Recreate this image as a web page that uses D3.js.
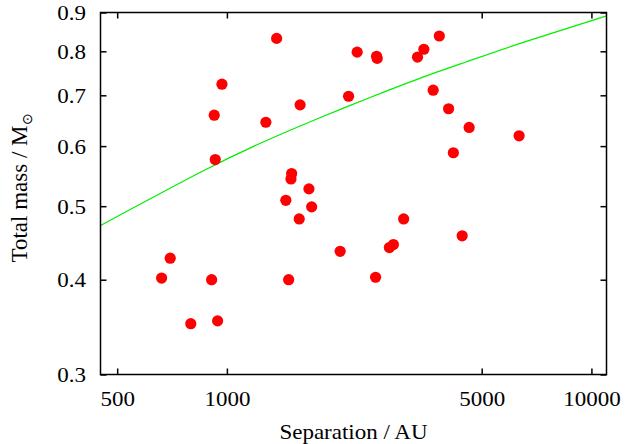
<!DOCTYPE html>
<html>
<head>
<meta charset="utf-8">
<script src="https://cdn.jsdelivr.net/npm/d3@7"></script>
<style>
  html, body { margin: 0; padding: 0; background: #fff; }
  svg { display: block; }
  text { font-family: "Liberation Serif", "Times New Roman", serif; fill: #000; }
</style>
</head>
<body>
<svg id="chart" width="626" height="444"></svg>
<script>
// separação (AU) e massa total (M_sol) de cada par
const separation = [662, 699, 796, 943, 908, 929, 923, 969, 1279, 1369, 1588, 1505,
  1499, 1679, 1451, 1708, 1579, 1477, 2045, 2157, 2277, 2574, 2584, 2558,
  2791, 2862, 3054, 3334, 3470, 3826, 3680, 4057, 4181, 4420, 4619, 6333];
const totalMass = [0.402, 0.427, 0.350, 0.353, 0.400, 0.576, 0.659, 0.724, 0.645, 0.832, 0.680, 0.552,
  0.543, 0.527, 0.509, 0.499, 0.481, 0.400, 0.436, 0.698, 0.798, 0.788, 0.783, 0.403,
  0.441, 0.445, 0.481, 0.786, 0.805, 0.838, 0.711, 0.672, 0.588, 0.457, 0.635, 0.619];

// curva verde
const curveSep = [450, 870, 1312, 1799, 2500, 3383, 4543, 6500, 11000];
const curveMass = [0.4715, 0.558, 0.613, 0.654, 0.697, 0.737, 0.775, 0.822, 0.891];

const xTicks = [500, 1000, 5000, 10000];
const yTicks = [0.3, 0.4, 0.5, 0.6, 0.7, 0.8, 0.9];

(function () {
  const mLeft = 100.5, mRight = 606.5, mTop = 12.5, mBottom = 374.5;
  const fontSize = 20, stretch = 1.15;

  const svg = d3.select('#chart');

  const x = d3.scaleLog().domain([450, 11000]).range([mLeft, mRight]);
  const y = d3.scaleLog().domain([0.3, 0.9]).range([mBottom, mTop]);

  // curva
  const linha = d3.line()
    .x(d => x(d[0]))
    .y(d => y(d[1]))
    .curve(d3.curveNatural);

  svg.append('path')
    .datum(curveSep.map((s, i) => [s, curveMass[i]]))
    .attr('d', linha)
    .attr('fill', 'none')
    .attr('stroke', '#00ee00')
    .attr('stroke-width', 1.2);

  // pontos
  svg.append('g')
    .selectAll('circle')
    .data(separation.map((s, i) => [s, totalMass[i]]))
    .enter()
    .append('circle')
    .attr('cx', d => x(d[0]))
    .attr('cy', d => y(d[1]))
    .attr('r', 5.6)
    .attr('fill', '#ff0000');

  // eixos (ticks para dentro)
  const eixo = (gen, tx, ty) => {
    const g = svg.append('g').attr('transform', `translate(${tx},${ty})`).call(gen);
    g.select('.domain').remove();
    g.selectAll('line').attr('stroke', '#000').attr('stroke-width', 1.5);
    return g;
  };

  const gx = eixo(d3.axisBottom(x).tickValues(xTicks).tickSize(-6).tickFormat(d3.format('d')), 0, mBottom);
  eixo(d3.axisTop(x).tickValues(xTicks).tickSize(-6).tickFormat(''), 0, mTop);
  const gy = eixo(d3.axisLeft(y).tickValues(yTicks).tickSize(-6).tickFormat(d3.format('.1f')), mLeft, 0);
  eixo(d3.axisRight(y).tickValues(yTicks).tickSize(-6).tickFormat(''), mRight, 0);

  gx.selectAll('text')
    .attr('y', null).attr('dy', null)
    .attr('font-size', fontSize)
    .attr('text-anchor', 'middle')
    .attr('transform', `translate(0,${406 - mBottom}) scale(${stretch},1)`);

  gy.selectAll('text')
    .attr('x', null).attr('dy', null)
    .attr('font-size', fontSize)
    .attr('text-anchor', 'end')
    .attr('transform', `translate(${86 - mLeft},7) scale(${stretch},1)`);

  svg.selectAll('g').attr('font-family', null).attr('font-size', null);

  // moldura
  svg.append('rect')
    .attr('x', mLeft).attr('y', mTop)
    .attr('width', mRight - mLeft).attr('height', mBottom - mTop)
    .attr('fill', 'none')
    .attr('stroke', '#000')
    .attr('stroke-width', 1.5);

  // títulos
  svg.append('text')
    .attr('transform', `translate(${(mLeft + mRight) / 2},438.5) scale(${stretch},1)`)
    .attr('text-anchor', 'middle')
    .attr('font-size', fontSize)
    .text('Separation / AU');

  const tituloY = svg.append('text')
    .attr('transform', 'translate(27,188) scale(1.15,1.15) rotate(-90)')
    .attr('text-anchor', 'middle')
    .attr('font-size', fontSize);
  tituloY.append('tspan').text('Total mass / M');
  tituloY.append('tspan')
    .attr('font-size', fontSize * 0.6)
    .attr('dy', 4)
    .text('\u2299');
})();
</script>
</body>
</html>
